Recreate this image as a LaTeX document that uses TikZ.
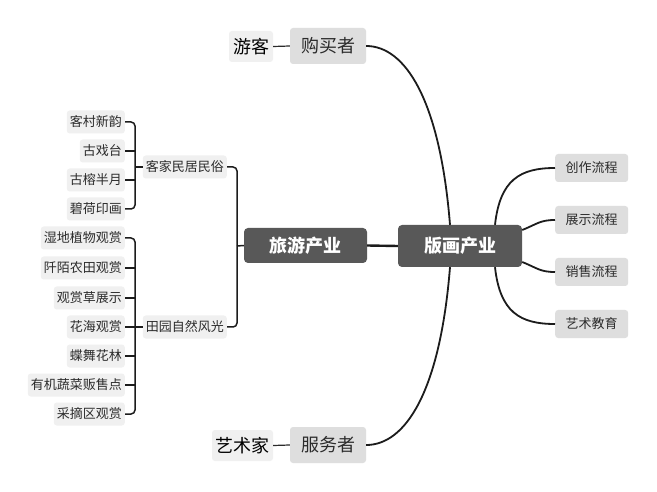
\documentclass[tikz,border=0pt]{standalone}
\usepackage{fontspec}
\setmainfont{Noto Sans CJK SC}
\definecolor{leafgray}{HTML}{F0F0F0}
\definecolor{midgray}{HTML}{DEDEDE}
\definecolor{darkbox}{HTML}{585858}
\definecolor{txt}{HTML}{2B2B2B}
\definecolor{ln}{HTML}{1C1C1C}
\tikzset{
  leaf/.style={fill=leafgray, rounded corners=3pt, text=txt, font=\fontsize{13}{13}\selectfont, inner xsep=3pt, inner ysep=0pt, minimum height=23pt, anchor=east},
  rightbox/.style={fill=midgray, rounded corners=3pt, text=txt, font=\fontsize{13}{13}\selectfont, inner sep=0pt, minimum width=73pt, minimum height=28pt, anchor=west},
  rolebox/.style={fill=midgray, rounded corners=3pt, text=txt, font=\fontsize{18}{18}\selectfont, inner sep=0pt, minimum width=76pt, minimum height=36pt},
  personbox/.style={fill=leafgray, rounded corners=3pt, text=black, font=\fontsize{18}{18}\selectfont, inner sep=0pt, minimum height=31pt},
  mainbox/.style={fill=darkbox, rounded corners=4pt, text=white, font=\fontsize{18}{18}\selectfont\bfseries, inner sep=0pt},
  curve/.style={draw=ln, line width=1.8pt},
  brack/.style={draw=ln, line width=1.5pt, rounded corners=4pt},
  thinlink/.style={draw=txt, line width=1.2pt}
}
\begin{document}
\begin{tikzpicture}[x=1pt,y=-1pt]
\useasboundingbox[fill=white] (0,0) rectangle (657,492);
% main boxes
\node[mainbox, minimum width=124pt, minimum height=42pt] (bh) at (460,246) {版画产业};
\node[mainbox, minimum width=123pt, minimum height=35pt] (ly) at (305.5,245.5) {旅游产业};
% roles
\node[rolebox] (buyer) at (328,46) {购买者};
\node[personbox, minimum width=44pt] (youke) at (251,46.5) {游客};
\node[rolebox] (server) at (328,445) {服务者};
\node[personbox, minimum width=61pt] (artist) at (242.5,445.5) {艺术家};
% right
\node[rightbox] (r1) at (555,168) {创作流程};
\node[rightbox] (r2) at (555,220) {展示流程};
\node[rightbox] (r3) at (555,272) {销售流程};
\node[rightbox] (r4) at (555,324) {艺术教育};
% mid
\node[leaf] (kj) at (227,167) {客家民居民俗};
\node[leaf] (ty) at (227,327) {田园自然风光};
% leaves
\node[leaf] (k1) at (125,122) {客村新韵};
\node[leaf] (k2) at (125,151) {古戏台};
\node[leaf] (k3) at (125,180) {古榕半月};
\node[leaf] (k4) at (125,209) {碧荷印画};
\node[leaf] (t1) at (125,238) {湿地植物观赏};
\node[leaf] (t2) at (125,268) {阡陌农田观赏};
\node[leaf] (t3) at (125,298) {观赏草展示};
\node[leaf] (t4) at (125,327) {花海观赏};
\node[leaf] (t5) at (125,356) {蝶舞花林};
\node[leaf] (t6) at (125,385) {有机蔬菜贩售点};
\node[leaf] (t7) at (125,414) {采摘区观赏};
% junction coordinates
\coordinate (lj) at (237,246);
\coordinate (kjj) at (135,167);
\coordinate (tyj) at (135,327);
% connectors
\draw[draw=ln, line width=2.4pt] (ly.east) -- (bh.west);
\draw[curve] (buyer.east) .. controls +(39,0) and +(-10,-125) .. ([xshift=-10pt]bh.north);
\draw[curve] (server.east) .. controls +(39,0) and +(-10,125) .. ([xshift=-10pt]bh.south);
\draw[curve] ([xshift=35pt]bh.north) .. controls +(5,-45) and +(-35,0) .. (r1.west);
\draw[curve] ([yshift=16pt]bh.east) .. controls +(15,-6) and +(-15,0) .. (r2.west);
\draw[curve] ([yshift=-16pt]bh.east) .. controls +(15,6) and +(-15,0) .. (r3.west);
\draw[curve] ([xshift=35pt]bh.south) .. controls +(5,45) and +(-35,0) .. (r4.west);
\draw[thinlink] (youke.east) -- (buyer.west);
\draw[thinlink] (artist.east) -- (server.west);
% left brackets
\draw[brack] (kj.east) -| (lj) |- (ty.east);
\draw[brack] (ly.west) -- (lj);
\draw[brack] (k1.east) -| (kjj) |- (k4.east);
\draw[brack] (k2.east) -- (k2.east -| kjj);
\draw[brack] (k3.east) -- (k3.east -| kjj);
\draw[brack] (kjj) -- (kj.west);
\draw[brack] (t1.east) -| (tyj) |- (t7.east);
\draw[brack] (t2.east) -- (t2.east -| tyj);
\draw[brack] (t3.east) -- (t3.east -| tyj);
\draw[brack] (t5.east) -- (t5.east -| tyj);
\draw[brack] (t6.east) -- (t6.east -| tyj);
\draw[brack] (t4.east) -- (ty.west);
\end{tikzpicture}
\end{document}
